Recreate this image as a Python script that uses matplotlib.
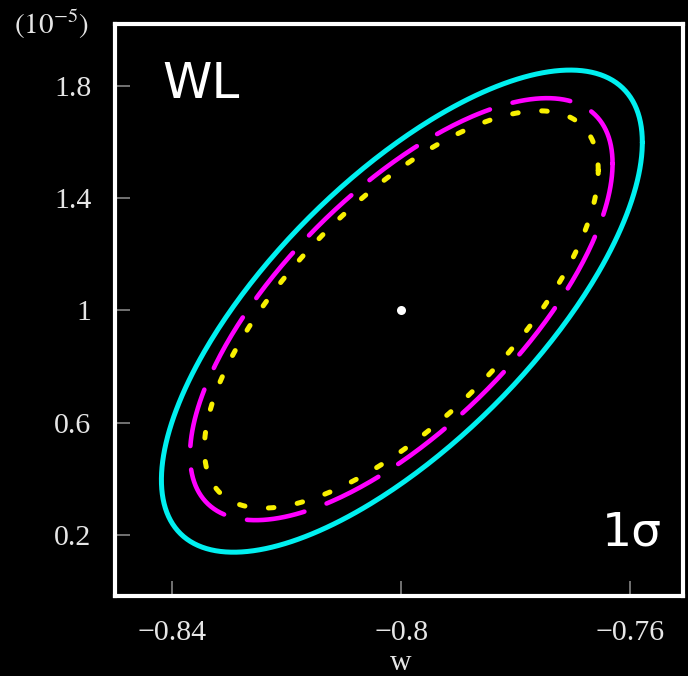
import numpy as np
import matplotlib
matplotlib.use("Agg")
import matplotlib.pyplot as plt

# 1-sigma contours (y in units of 1e-5)
labels = ["cyan", "magenta", "yellow"]
w_center = [-0.7999, -0.8000, -0.8000]
y_center = [0.997, 1.004, 1.003]
w_half = [0.0420, 0.0369, 0.0344]      # half width of contour in w
y_half = [0.858, 0.751, 0.707]         # half height of contour in y
rho = [0.70, 0.69, 0.70]               # tilt / correlation

fid_w = [-0.8]
fid_y = [1.0]

xticks = [-0.84, -0.8, -0.76]
xtick_labels = ["\u22120.84", "\u22120.8", "\u22120.76"]
yticks = [0.2, 0.6, 1.0, 1.4, 1.8]
ytick_labels = ["0.2", "0.6", "1", "1.4", "1.8"]

colors = ["#00f0f0", "#ff00ff", "#f8f000"]
styles = [None, (0, (42, 17)), (0, (4, 17))]
widths = [3.6, 3.3, 3.6]

plt.rcParams["lines.scale_dashes"] = False
plt.rcParams["mathtext.fontset"] = "stix"
serif = "Liberation Serif"
txt_col = "#e6e6e6"

fig = plt.figure(figsize=(6.88, 6.76), dpi=100, facecolor="black")
ax = fig.add_axes([0.1672, 0.1183, 0.8255, 0.8462], facecolor="black")

t = np.linspace(0, 2 * np.pi, 400)
for i in range(len(labels)):
    xs = w_center[i] + w_half[i] * np.cos(t)
    ys = y_center[i] + y_half[i] * (rho[i] * np.cos(t) + np.sqrt(1 - rho[i] ** 2) * np.sin(t))
    if styles[i] is None:
        ax.plot(xs, ys, color=colors[i], lw=widths[i], solid_capstyle="round")
    else:
        ax.plot(xs, ys, color=colors[i], lw=widths[i], linestyle=styles[i],
                dash_capstyle="round")

ax.plot(fid_w, fid_y, "o", color="white", ms=6.5, mec="none", zorder=5)

ax.set_xlim(-0.85, -0.7508)
ax.set_ylim(-0.017, 2.019)

ax.set_xticks(xticks)
ax.set_xticklabels(xtick_labels)
ax.set_yticks(yticks)
ax.set_yticklabels(ytick_labels)
ax.tick_params(direction="in", length=11, width=1.1, color="#909090",
               labelcolor=txt_col, labelsize=21.5, pad=17)
for lab in ax.get_xticklabels() + ax.get_yticklabels():
    lab.set_fontfamily(serif)

for s in ax.spines.values():
    s.set_color("white")
    s.set_linewidth(3)

fig.text(0.582, 0.019, "w", color=txt_col, fontsize=21.5, family=serif,
         ha="center", va="center")
fig.text(0.075, 0.964, r"$(10^{-5})$", color=txt_col, fontsize=21,
         ha="center", va="center")

ax.text(0.083, 0.895, "WL", transform=ax.transAxes, color="white",
        fontsize=36, ha="left", va="center")
ax.text(0.963, 0.11, "1\u03c3", transform=ax.transAxes, color="white",
        fontsize=34, ha="right", va="center")

fig.savefig("out.png", dpi=100, facecolor="black")
